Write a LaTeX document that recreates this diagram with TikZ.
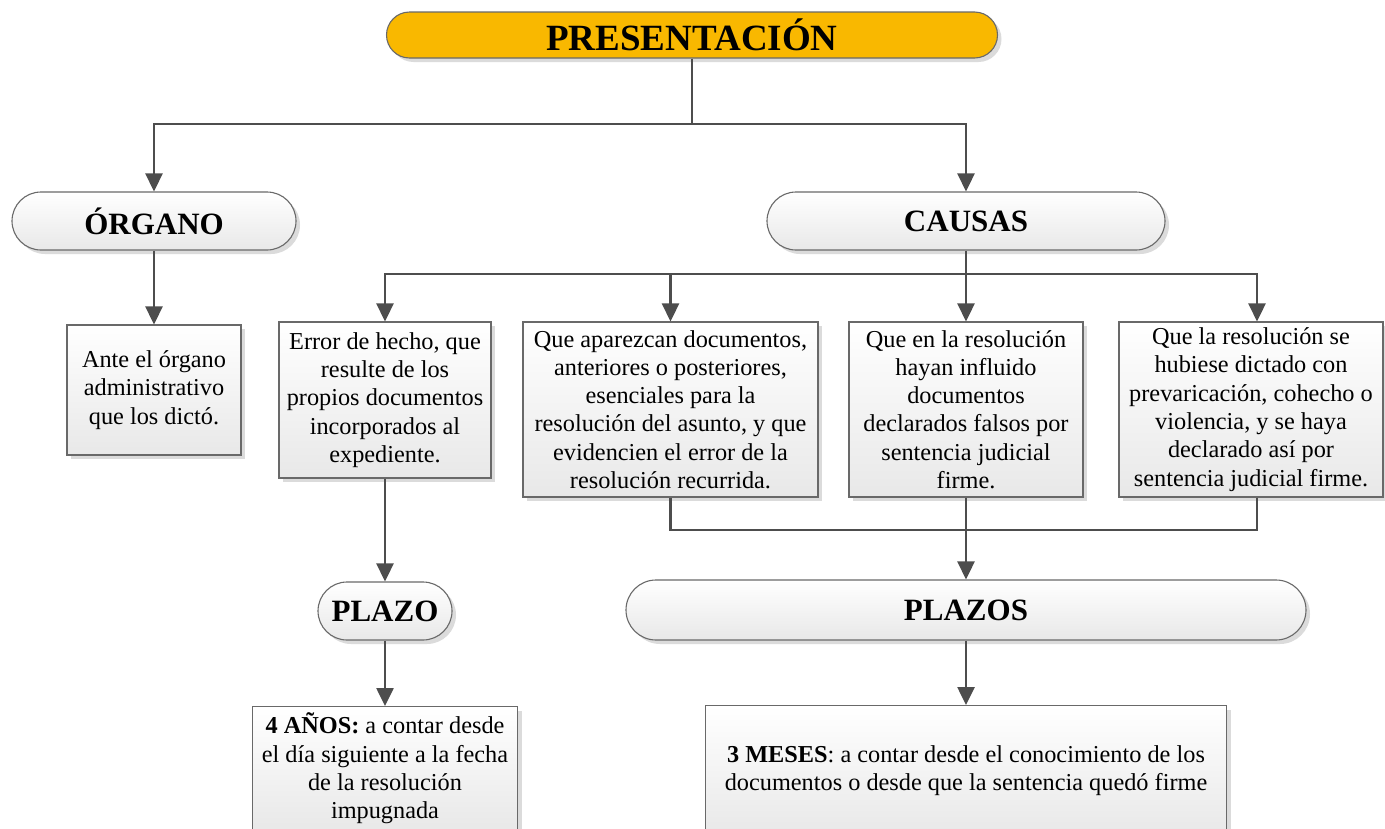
\documentclass[tikz,border=0pt]{standalone}
\usepackage{fontspec}
\setmainfont{Liberation Serif}
\usetikzlibrary{arrows.meta,shadows,calc}
\definecolor{gold}{RGB}{249,184,0}
\definecolor{lin}{RGB}{77,77,77}
\definecolor{bord}{RGB}{105,105,105}
\tikzset{
  base/.style={draw=bord, line width=1.1pt, inner sep=0pt, align=center,
    drop shadow={shadow xshift=4pt, shadow yshift=-4pt, fill=black!14, opacity=1},
    top color=white, bottom color=black!9},
  boxnode/.style={base, font=\fontsize{24.3}{28.3}\selectfont},
  pill/.style={base, font=\fontsize{31}{36}\selectfont\bfseries},
  conn/.style={draw=lin, line width=2.6pt},
  arr/.style={conn, -{Triangle[width=17pt,length=18pt]}},
}
\begin{document}
\begin{tikzpicture}[x=1pt,y=-1pt]
\useasboundingbox (0,0) rectangle (1385,828);
% header
\node[base, top color=gold, bottom color=gold, minimum width=611pt, minimum height=46pt,
  rounded corners=23pt, font=\fontsize{37}{40}\selectfont\bfseries] (pres) at (692,35) {PRESENTACIÓN};
\node[pill, minimum width=284pt, minimum height=58pt, rounded corners=29pt] (organo) at (154,221) {ÓRGANO};
\node[pill, minimum width=398pt, minimum height=58pt, rounded corners=29pt] (causas) at (966,221) {CAUSAS};
\node[boxnode, minimum width=174pt, minimum height=130pt] (ante) at (154,390)
  {Ante el órgano\\administrativo\\que los dictó.};
\node[boxnode, minimum width=212pt, minimum height=156pt] (b1) at (385,400)
  {Error de hecho, que\\resulte de los\\propios documentos\\incorporados al\\expediente.};
\node[boxnode, minimum width=295pt, minimum height=175pt] (b2) at (670.5,409.5)
  {Que aparezcan documentos,\\anteriores o posteriores,\\esenciales para la\\resolución del asunto, y que\\evidencien el error de la\\resolución recurrida.};
\node[boxnode, minimum width=234pt, minimum height=175pt] (b3) at (966,409.5)
  {Que en la resolución\\hayan influido\\documentos\\declarados falsos por\\sentencia judicial\\firme.};
\node[boxnode, minimum width=264pt, minimum height=175pt] (b4) at (1251,409.5)
  {Que la resolución se\\hubiese dictado con\\prevaricación, cohecho o\\violencia, y se haya\\declarado así por\\sentencia judicial firme.};
\node[pill, minimum width=134pt, minimum height=58pt, rounded corners=29pt] (plazo) at (385,611) {PLAZO};
\node[pill, minimum width=680pt, minimum height=60pt, rounded corners=30pt] (plazos) at (966,610) {PLAZOS};
\node[boxnode, minimum width=265pt, minimum height=124pt, anchor=north] (anos) at (385,706)
  {\textbf{4 AÑOS:} a contar desde\\el día siguiente a la fecha\\de la resolución\\impugnada};
\node[boxnode, minimum width=521pt, minimum height=130pt, anchor=north] (meses) at (966,705)
  {\textbf{3 MESES}: a contar desde el conocimiento de los\\documentos o desde que la sentencia quedó firme};
% connectors
\coordinate (j1) at (692,124);
\coordinate (j2) at (966,274);
\coordinate (j3) at (966,530);
\draw[conn] (pres.south) -- (j1);
\draw[arr] (j1) -| (organo.north);
\draw[arr] (j1) -| (causas.north);
\draw[arr] (organo.south) -- (ante.north);
\draw[conn] (causas.south) -- (j2);
\draw[arr] (j2) -| (b1.north);
\draw[arr] (j2) -| (b2.north);
\draw[arr] (j2) -- (b3.north);
\draw[arr] (j2) -| ([xshift=6pt]b4.north);
\draw[arr] (b1.south) -- (plazo.north);
\draw[conn] (b2.south) |- (j3);
\draw[conn] ([xshift=6pt]b4.south) |- (j3);
\draw[arr] (b3.south) -- (plazos.north);
\draw[arr] (plazo.south) -- (anos.north);
\draw[arr] (plazos.south) -- (meses.north);
\end{tikzpicture}
\end{document}
